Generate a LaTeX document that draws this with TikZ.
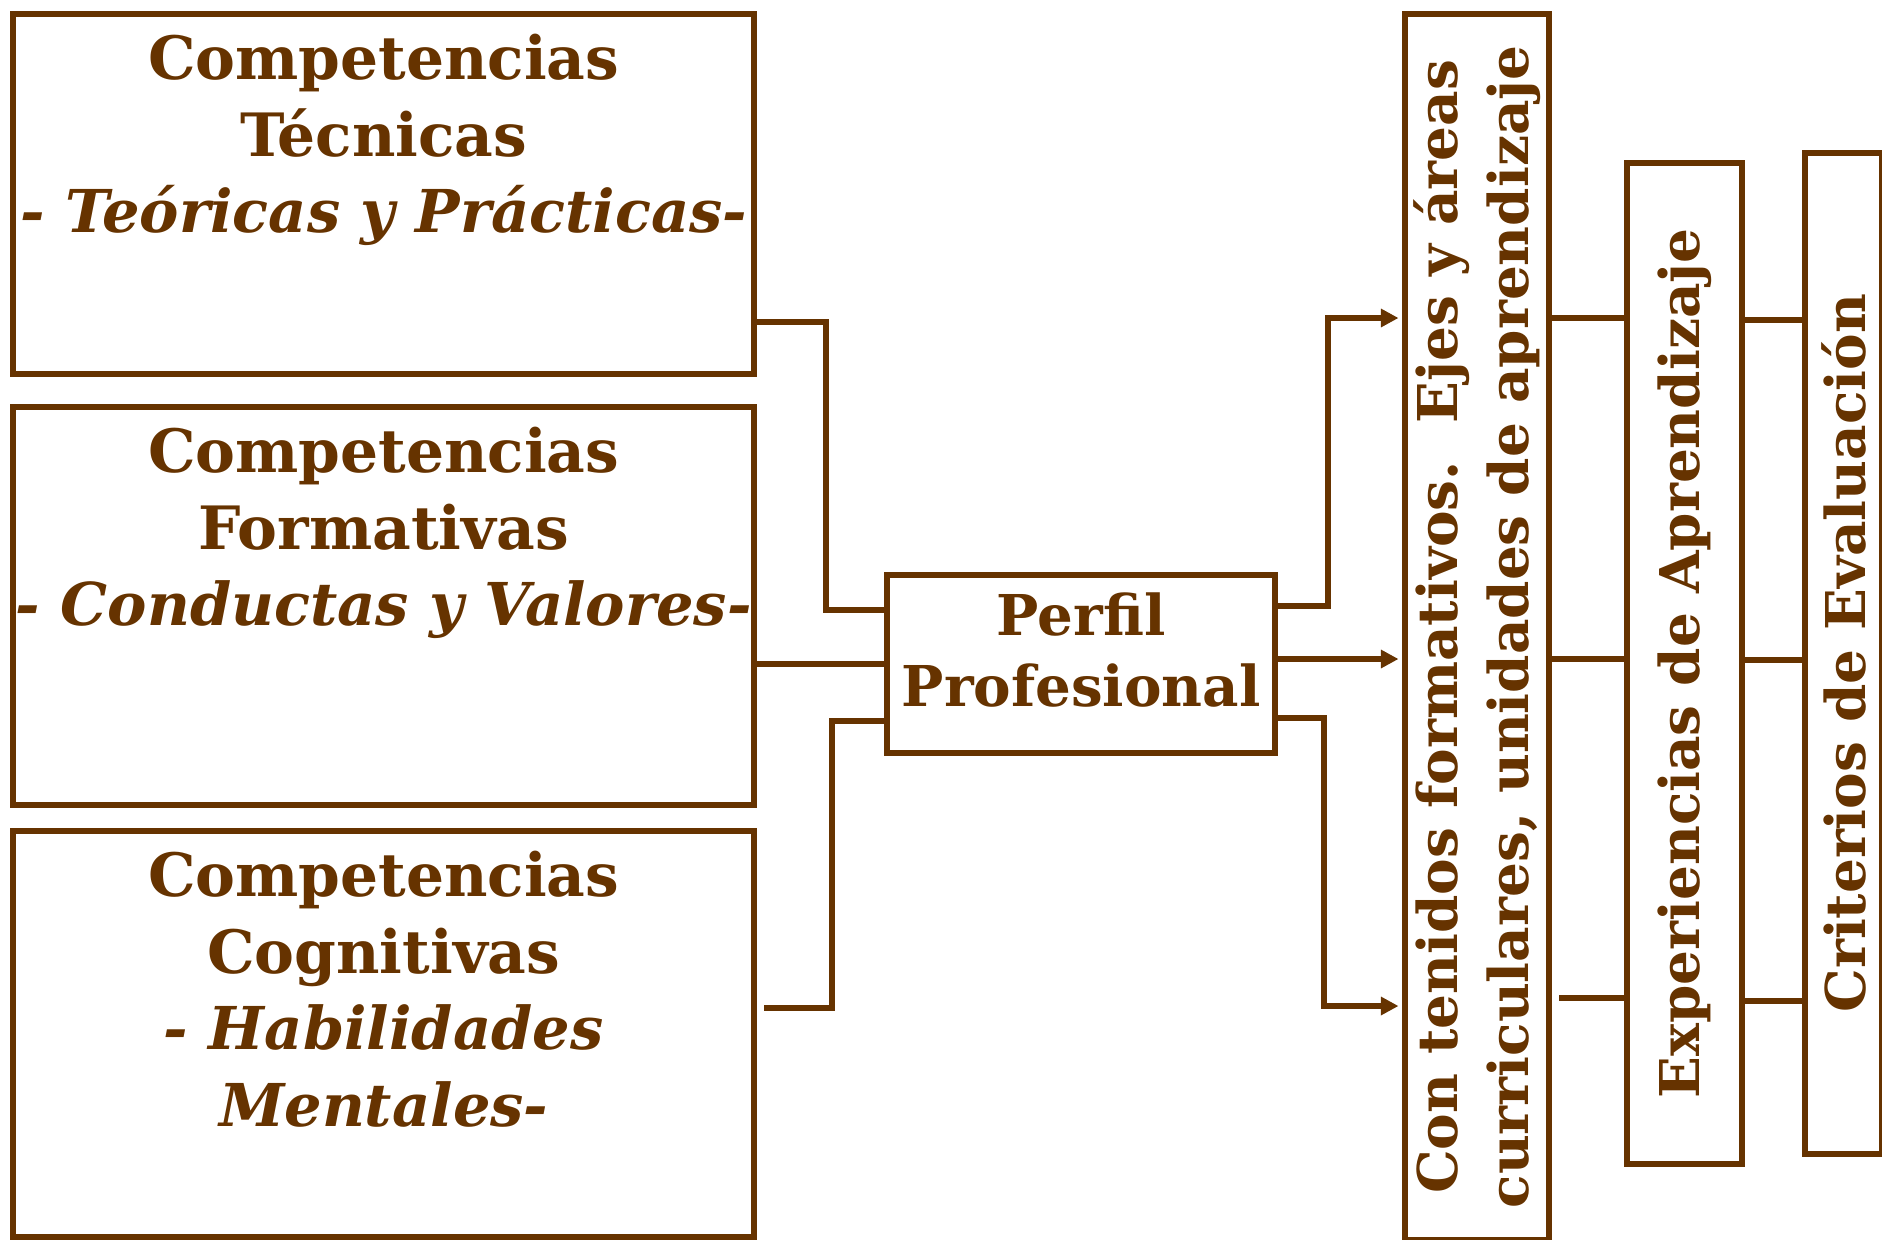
\documentclass[tikz,border=0pt]{standalone}
\usepackage{fontspec}
\setmainfont{DejaVu Serif}
\usetikzlibrary{arrows.meta}
\definecolor{cafe}{RGB}{102,51,0}
\tikzset{
  caja/.style     = {shape=rectangle, draw=cafe, line width=1.7pt,
                     inner sep=0pt, anchor=north west},
  comptext/.style = {anchor=north, align=center, text=cafe,
                     font=\fontsize{17}{21.8}\selectfont\bfseries},
  perftext/.style = {align=center, text=cafe,
                     font=\fontsize{16}{20.2}\selectfont\bfseries},
  vert/.style     = {rotate=90, align=center, text=cafe,
                     font=\fontsize{15.6}{20.4}\selectfont\bfseries},
  conn/.style     = {draw=cafe, line width=1.7pt},
  flecha/.style   = {conn, -{Triangle[length=5pt,width=5pt]}}
}
\newcommand{\itlinea}[1]{{\fontsize{16.8}{21.8}\selectfont\itshape #1}}

\begin{document}
\begin{tikzpicture}[x=0.01cm, y=-0.01cm]
  \useasboundingbox (0,0) rectangle (1882,1239);

  % competencias
  \node [caja, minimum width=7.41cm, minimum height=3.60cm] (tec) at (10,11) {};
  \node [comptext, yshift=-3pt] at (tec.north)
        {Competencias\\Técnicas\\\itlinea{- Teóricas y Prácticas-}};
  \node [caja, minimum width=7.41cm, minimum height=3.98cm] (form) at (10,404) {};
  \node [comptext, yshift=-3pt] at (form.north)
        {Competencias\\Formativas\\\itlinea{- Conductas y Valores-}};
  \node [caja, minimum width=7.41cm, minimum height=4.06cm] (cog) at (10,828) {};
  \node [comptext, yshift=-3pt] at (cog.north)
        {Competencias\\Cognitivas\\\itlinea{- Habilidades}\\\itlinea{Mentales-}};

  % perfil
  \node [caja, minimum width=3.88cm, minimum height=1.78cm] (perfil) at (884,572) {};
  \node [perftext, yshift=4pt] at (perfil.center) {Perfil\\Profesional};

  % columnas verticales
  \node [caja, minimum width=1.44cm, minimum height=12.25cm] (cont) at (1402,11) {};
  \node [vert] at (cont.center)
        {Con tenidos formativos.~~Ejes y áreas\\curriculares, unidades de aprendizaje};
  \node [caja, minimum width=1.15cm, minimum height=10.00cm] (exp) at (1624,160) {};
  \node [vert] at (exp.center) {Experiencias de Aprendizaje};
  \node [caja, minimum width=0.77cm, minimum height=10.00cm] (crit) at (1802,150) {};
  \node [vert] at (crit.center) {Criterios de Evaluación};

  % entradas al perfil
  \draw [conn] (tec.east |- 0,322) -| (826,610) -- (perfil.west |- 0,610);
  \draw [conn] (form.east |- 0,664) -- (perfil.west |- 0,664);
  \draw [conn, shorten <=2pt] (cog.east |- 0,1008) -| (832,721) -- (perfil.west |- 0,721);

  % salidas del perfil
  \draw [flecha, shorten >=1pt] (perfil.east |- 0,606) -| (1328,318) -- (cont.west |- 0,318);
  \draw [flecha, shorten >=1pt] (perfil.east |- 0,659) -- (cont.west |- 0,659);
  \draw [flecha, shorten >=1pt] (perfil.east |- 0,718) -| (1324,1006) -- (cont.west |- 0,1006);

  % enlaces entre columnas
  \draw [conn] (cont.east |- 0,318) -- (exp.west |- 0,318);
  \draw [conn] (cont.east |- 0,659) -- (exp.west |- 0,659);
  \draw [conn, shorten <=2pt] (cont.east |- 0,998) -- (exp.west |- 0,998);
  \draw [conn] (exp.east |- 0,320) -- (crit.west |- 0,320);
  \draw [conn] (exp.east |- 0,660) -- (crit.west |- 0,660);
  \draw [conn] (exp.east |- 0,1001) -- (crit.west |- 0,1001);
\end{tikzpicture}
\end{document}
